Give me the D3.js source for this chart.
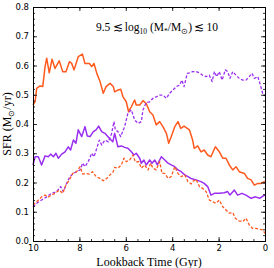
<!DOCTYPE html>
<html lang="en">
<head>
<meta charset="UTF-8">
<title>SFR vs lookback time</title>
<script src="https://d3js.org/d3.v7.min.js"></script>
<style>
    body { margin: 0; background: #fff; }
    .tick text { font-family: "DejaVu Sans", sans-serif; font-size: 8.5px; fill: #000; }
    .lbl { font-family: "Liberation Serif", serif; fill: #000; }
</style>
</head>
<body>
<div id="chart"></div>
<script>
    // [lookback time (Gyr), SFR (Msun/yr)]
    const orangeSolid = [
        [10,0.465],[9.91,0.476],[9.84,0.522],[9.7,0.53],[9.58,0.528],[9.48,0.596],[9.41,0.625],[9.3,0.575],
        [9.18,0.621],[9.05,0.59],[8.87,0.616],[8.72,0.579],[8.58,0.579],[8.43,0.613],[8.33,0.607],[8.23,0.585],
        [8.05,0.63],[7.87,0.639],[7.76,0.607],[7.57,0.607],[7.47,0.596],[7.37,0.607],[7.25,0.573],[7.11,0.545],
        [6.97,0.505],[6.85,0.528],[6.68,0.539],[6.54,0.528],[6.48,0.51],[6.34,0.516],[6.22,0.519],[6.12,0.493],
        [5.98,0.476],[5.88,0.442],[5.76,0.459],[5.62,0.482],[5.55,0.465],[5.4,0.465],[5.26,0.48],[5.12,0.47],
        [4.97,0.442],[4.83,0.431],[4.69,0.397],[4.54,0.408],[4.4,0.391],[4.25,0.368],[4.15,0.334],[4.04,0.357],
        [3.89,0.391],[3.75,0.408],[3.63,0.385],[3.49,0.393],[3.35,0.385],[3.26,0.38],[3.12,0.345],[3.05,0.317],
        [2.9,0.325],[2.76,0.305],[2.62,0.311],[2.47,0.294],[2.33,0.288],[2.14,0.322],[1.97,0.305],[1.82,0.283],
        [1.68,0.283],[1.54,0.26],[1.39,0.243],[1.25,0.254],[1.11,0.237],[0.89,0.231],[0.75,0.214],[0.6,0.209],
        [0.46,0.191],[0.31,0.197],[0.17,0.197],[0.03,0.203],[0,0.2]
    ];
    const purpleDashed = [
        [10,0.117],[9.84,0.129],[9.63,0.14],[9.41,0.151],[9.2,0.163],[8.98,0.169],[8.81,0.186],[8.69,0.169],
        [8.55,0.197],[8.41,0.22],[8.26,0.231],[8.12,0.237],[7.97,0.243],[7.86,0.266],[7.76,0.254],[7.62,0.271],
        [7.47,0.3],[7.37,0.288],[7.25,0.317],[7.14,0.345],[7.04,0.328],[6.9,0.345],[6.75,0.339],[6.61,0.368],
        [6.51,0.408],[6.45,0.38],[6.34,0.374],[6.22,0.357],[6.05,0.391],[5.91,0.437],[5.76,0.448],[5.62,0.414],
        [5.47,0.402],[5.33,0.408],[5.26,0.448],[5.12,0.473],[4.97,0.476],[4.83,0.488],[4.69,0.493],[4.54,0.499],
        [4.4,0.499],[4.25,0.488],[4.11,0.505],[3.97,0.516],[3.82,0.528],[3.68,0.533],[3.58,0.55],[3.49,0.528],
        [3.35,0.573],[3.25,0.575],[3.12,0.579],[2.97,0.579],[2.83,0.575],[2.69,0.567],[2.54,0.562],[2.4,0.567],
        [2.28,0.545],[2.18,0.579],[2.08,0.562],[1.97,0.579],[1.85,0.55],[1.71,0.585],[1.61,0.579],[1.51,0.556],
        [1.39,0.579],[1.25,0.567],[1.11,0.556],[0.96,0.55],[0.82,0.55],[0.68,0.562],[0.56,0.573],[0.46,0.556],
        [0.31,0.562],[0.22,0.539],[0.1,0.505],[0,0.496]
    ];
    const purpleSolid = [
        [10,0.26],[9.91,0.288],[9.77,0.288],[9.63,0.26],[9.48,0.291],[9.34,0.288],[9.24,0.297],[9.12,0.288],
        [9.01,0.3],[8.91,0.283],[8.76,0.297],[8.62,0.305],[8.48,0.322],[8.38,0.311],[8.26,0.345],[8.15,0.334],
        [8.05,0.38],[7.9,0.357],[7.76,0.391],[7.66,0.359],[7.54,0.357],[7.4,0.374],[7.28,0.38],[7.17,0.393],
        [7.04,0.374],[6.9,0.368],[6.71,0.351],[6.56,0.339],[6.48,0.368],[6.34,0.322],[6.19,0.325],[6.05,0.32],
        [5.91,0.317],[5.76,0.305],[5.65,0.294],[5.55,0.3],[5.4,0.283],[5.33,0.266],[5.22,0.277],[5.12,0.26],
        [4.97,0.277],[4.87,0.266],[4.75,0.277],[4.64,0.26],[4.47,0.288],[4.32,0.277],[4.18,0.266],[4.04,0.26],
        [3.89,0.254],[3.75,0.243],[3.61,0.237],[3.46,0.226],[3.32,0.22],[3.19,0.214],[2.97,0.209],[2.76,0.203],
        [2.62,0.197],[2.47,0.186],[2.33,0.157],[2.18,0.163],[1.97,0.163],[1.75,0.165],[1.61,0.169],[1.51,0.157],
        [1.32,0.174],[1.18,0.157],[0.99,0.163],[0.82,0.157],[0.6,0.146],[0.41,0.151],[0.23,0.146],[0.03,0.157],
        [0,0.155]
    ];
    const orangeDashed = [
        [10,0.123],[9.84,0.134],[9.63,0.151],[9.48,0.157],[9.34,0.151],[9.2,0.157],[9.05,0.163],[8.87,0.174],
        [8.72,0.163],[8.58,0.191],[8.43,0.209],[8.29,0.231],[8.12,0.237],[7.97,0.254],[7.86,0.229],[7.72,0.231],
        [7.57,0.229],[7.43,0.237],[7.28,0.22],[7.11,0.214],[6.97,0.206],[6.82,0.214],[6.68,0.226],[6.54,0.237],
        [6.48,0.252],[6.34,0.249],[6.19,0.26],[6.08,0.283],[5.98,0.271],[5.83,0.277],[5.69,0.294],[5.59,0.271],
        [5.44,0.271],[5.33,0.249],[5.19,0.26],[5.04,0.243],[4.93,0.266],[4.83,0.249],[4.69,0.243],[4.54,0.271],
        [4.44,0.231],[4.32,0.231],[4.18,0.214],[4.04,0.22],[3.89,0.254],[3.75,0.231],[3.61,0.22],[3.46,0.226],
        [3.32,0.203],[3.18,0.195],[3.12,0.203],[2.97,0.211],[2.83,0.186],[2.69,0.18],[2.54,0.169],[2.4,0.14],
        [2.25,0.134],[2.11,0.129],[1.97,0.14],[1.82,0.117],[1.68,0.106],[1.54,0.095],[1.39,0.097],[1.28,0.078],
        [1.13,0.069],[0.96,0.066],[0.82,0.078],[0.68,0.055],[0.53,0.043],[0.39,0.043],[0.25,0.04],[0.1,0.038],
        [0,0.026]
    ];
    const xTicks = [10, 8, 6, 4, 2, 0];
    const yTicks = [0, 0.1, 0.2, 0.3, 0.4, 0.5, 0.6, 0.7, 0.8];

    const orange = "#ff5a1e";
    const purple = "#9a2ef0";

    const width = 274, height = 268;
    const margin = {top: 7, right: 9, bottom: 27, left: 33};

    const svg = d3.select("#chart").append("svg")
        .attr("width", width)
        .attr("height", height);

    const x = d3.scaleLinear().domain([10, 0]).range([margin.left, width - margin.right]);
    const y = d3.scaleLinear().domain([0, 0.8]).range([height - margin.bottom, margin.top]);

    const line = d3.line().x(d => x(d[0])).y(d => y(d[1]));

    const series = [
        {data: orangeSolid, color: orange, dash: null, w: 1.5},
        {data: purpleDashed, color: purple, dash: "3,1.8", w: 1.3},
        {data: purpleSolid, color: purple, dash: null, w: 1.5},
        {data: orangeDashed, color: orange, dash: "3,1.8", w: 1.3}
    ];

    const plot = svg.append("g");
    series.forEach(s => {
        plot.append("path")
            .datum(s.data)
            .attr("d", line)
            .attr("fill", "none")
            .attr("stroke", s.color)
            .attr("stroke-width", s.w)
            .attr("stroke-linejoin", "round")
            .attr("stroke-dasharray", s.dash);
    });

    // axes: inward ticks on all four sides, minor ticks too
    const xMinor = d3.range(0, 10.01, 0.5);
    const yMinor = d3.range(0, 0.801, 0.02);

    function axisGroup(axis, transform) {
        return svg.append("g").attr("transform", transform).call(axis)
            .call(g => g.select(".domain").attr("stroke", "#000").attr("stroke-width", 1));
    }

    axisGroup(d3.axisBottom(x).tickValues(xTicks).tickSize(-4).tickPadding(4).tickFormat(d3.format("d")),
        `translate(0,${height - margin.bottom})`);
    axisGroup(d3.axisBottom(x).tickValues(xMinor).tickSize(-2).tickFormat(""),
        `translate(0,${height - margin.bottom})`);
    axisGroup(d3.axisTop(x).tickValues(xTicks).tickSize(-4).tickFormat(""),
        `translate(0,${margin.top})`);
    axisGroup(d3.axisTop(x).tickValues(xMinor).tickSize(-2).tickFormat(""),
        `translate(0,${margin.top})`);
    axisGroup(d3.axisLeft(y).tickValues(yTicks).tickSize(-4).tickPadding(4).tickFormat(d3.format(".1f")),
        `translate(${margin.left},0)`);
    axisGroup(d3.axisLeft(y).tickValues(yMinor).tickSize(-2).tickFormat(""),
        `translate(${margin.left},0)`);
    axisGroup(d3.axisRight(y).tickValues(yTicks).tickSize(-4).tickFormat(""),
        `translate(${width - margin.right},0)`);
    axisGroup(d3.axisRight(y).tickValues(yMinor).tickSize(-2).tickFormat(""),
        `translate(${width - margin.right},0)`);

    svg.selectAll(".tick line").attr("stroke", "#000").attr("stroke-width", 0.8);

    // axis labels
    svg.append("text").attr("class", "lbl")
        .attr("x", (margin.left + width - margin.right) / 2)
        .attr("y", height - 2)
        .attr("text-anchor", "middle")
        .style("font-size", "12px")
        .text("Lookback Time (Gyr)");

    const yl = svg.append("text").attr("class", "lbl")
        .attr("transform", `translate(11,${(margin.top + height - margin.bottom) / 2}) rotate(-90)`)
        .attr("text-anchor", "middle")
        .style("font-size", "12px");
    yl.append("tspan").text("SFR (M");
    yl.append("tspan").attr("dy", 3).style("font-size", "8px").text("\u2299");
    yl.append("tspan").attr("dy", -3).text("/yr)");

    // bin label
    const t = svg.append("text").attr("class", "lbl")
        .attr("x", 157).attr("y", 31)
        .attr("text-anchor", "middle")
        .style("font-size", "11.5px");
    t.append("tspan").text("9.5\u2009\u2272\u2009log");
    t.append("tspan").attr("dy", 2.5).style("font-size", "7.5px").text("10");
    t.append("tspan").attr("dy", -2.5).text(" (M");
    t.append("tspan").attr("dy", 2.5).style("font-size", "7.5px").text("*");
    t.append("tspan").attr("dy", -2.5).text("/M");
    t.append("tspan").attr("dy", 2.5).style("font-size", "7.5px").text("\u2299");
    t.append("tspan").attr("dy", -2.5).text(")\u2009\u2272\u200910");
</script>
</body>
</html>
